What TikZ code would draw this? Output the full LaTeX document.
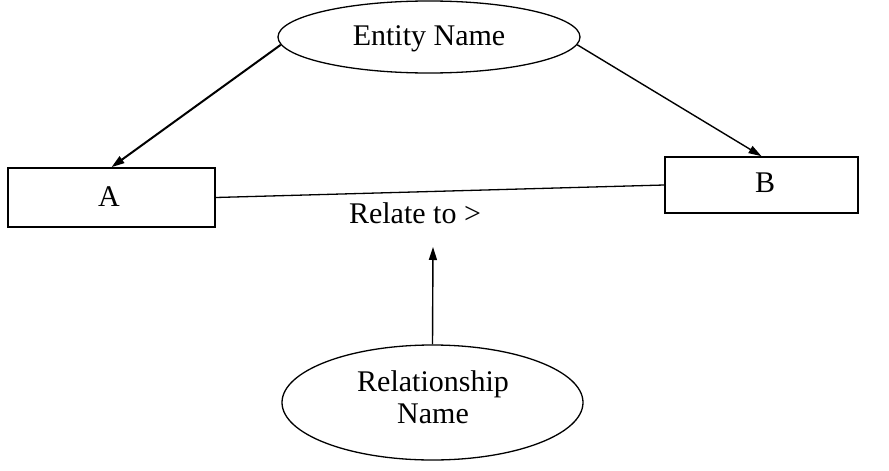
\documentclass[tikz,border=0pt]{standalone}
\usepackage{fontspec}
\setmainfont{Liberation Serif}
\usetikzlibrary{shapes.geometric,arrows.meta}
\begin{document}
\begin{tikzpicture}[x=1pt,y=-1pt,
  ent/.style={draw,line width=1.3pt,ellipse,inner sep=0pt},
  box/.style={draw,line width=1.6pt,rectangle,inner sep=0pt},
  arr/.style={line width=1.4pt,-{Triangle[length=13pt,width=8pt]}},
  lbl/.style={inner sep=0pt,font=\fontsize{30}{32}\selectfont,align=center}]
\useasboundingbox (0,0) rectangle (889,471);
\node[ent,minimum width=302pt,minimum height=72pt] (en) at (429,37) {};
\node[lbl] (ent) at (429,39) {Entity Name};
\node[box,minimum width=207pt,minimum height=59pt] (A) at (111.5,197.5) {};
\node[lbl] (At) at (109,197) {A};
\node[box,minimum width=193pt,minimum height=56pt] (B) at (761.5,185) {};
\node[lbl] (Bt) at (765,183) {B};
\node[lbl] (rt) at (415,213) {Relate to >};
\node[ent,minimum width=301pt,minimum height=115pt] (rel) at (432.5,402.5) {};
\node[lbl] (relt) at (433,397) {Relationship\\Name};
\coordinate (tip) at (433,247);
\draw[line width=1.3pt] (A.east) -- (B.west);
\draw[arr,line width=2pt] (en.183) -- (A.north);
\draw[arr] (en.357) -- (B.north);
\draw[arr] (rel.north) -- (tip);
\end{tikzpicture}
\end{document}
